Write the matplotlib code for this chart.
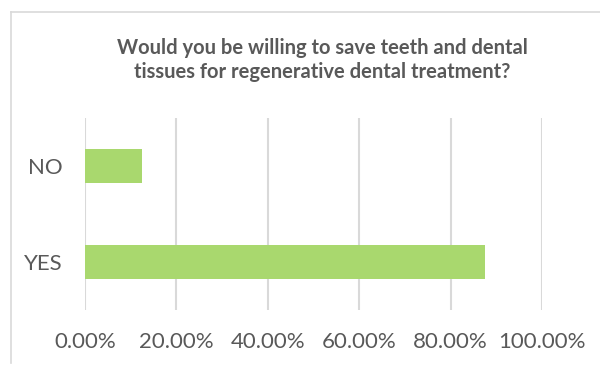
import matplotlib
matplotlib.use("Agg")
import matplotlib.pyplot as plt
from matplotlib.lines import Line2D
from matplotlib.ticker import FuncFormatter

# answers and share of respondents
answers = ["YES", "NO"]
shares = [0.875, 0.125]
xticks = [0, 0.2, 0.4, 0.6, 0.8, 1.0]

title = "Would you be willing to save teeth and dental\ntissues for regenerative dental treatment?"

plt.rcParams["font.family"] = ["Lato", "DejaVu Sans"]
W, H = 600, 365
fig = plt.figure(figsize=(W / 100, H / 100), dpi=100)

# light gray frame (left and top edges visible)
fig.add_artist(Line2D([11 / W, 11 / W], [2 / H, 1 - 12 / H], color="#D9D9D9", lw=1.2))
fig.add_artist(Line2D([11 / W, 1.0], [1 - 12 / H, 1 - 12 / H], color="#D9D9D9", lw=1.2))

ax = fig.add_axes([85 / W, 55 / H, 457 / W, 192 / H])
ypos = range(len(answers))
ax.barh(ypos, shares, height=0.36, color="#A9D86E", zorder=3)
ax.set_xlim(0, 1.0)
ax.set_ylim(-0.5, 1.5)
ax.set_xticks(xticks)
ax.xaxis.set_major_formatter(FuncFormatter(lambda v, p: "{:.2f}%".format(v * 100)))
ax.set_yticks(list(ypos))
ax.set_yticklabels(answers)
ax.grid(axis="x", color="#D9D9D9", lw=1.5, zorder=0)
for s in ax.spines.values():
    s.set_visible(False)
ax.tick_params(axis="both", length=0, labelsize=16, colors="#595959")
ax.tick_params(axis="x", pad=16)
ax.tick_params(axis="y", pad=16)

fig.text(322 / W, 1 - 60 / H, title, ha="center", va="center", fontsize=14.5,
         fontweight="bold", color="#595959", linespacing=1.3)

fig.savefig("out.png", dpi=100)
